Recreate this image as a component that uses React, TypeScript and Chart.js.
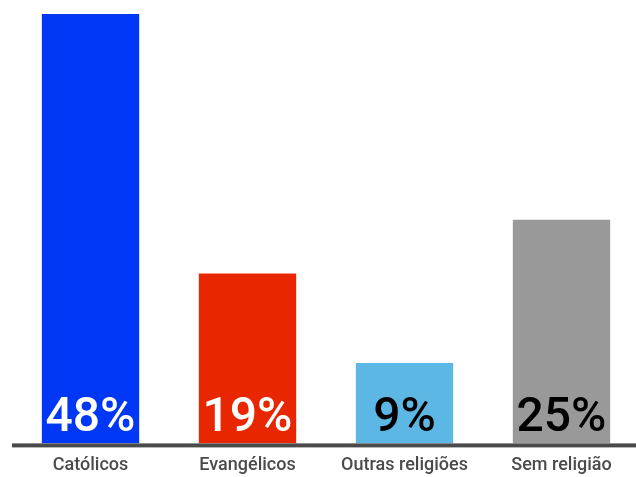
import React, { useEffect, useRef } from "react";
import Chart from "chart.js/auto";

const categories = ["Católicos", "Evangélicos", "Outras religiões", "Sem religião"];
const shares = [48, 19, 9, 25];
const barColors = ["#0037f5", "#e82600", "#5db7e5", "#999999"];
const labelColors = ["#ffffff", "#ffffff", "#000000", "#000000"];

// Value labels sitting at the bottom of each bar
const valueLabels = {
  id: "valueLabels",
  afterDatasetsDraw(chart: Chart) {
    const ctx = chart.ctx;
    const meta = chart.getDatasetMeta(0);
    ctx.save();
    ctx.font = "500 48px Roboto";
    ctx.textAlign = "center";
    ctx.textBaseline = "alphabetic";
    meta.data.forEach((bar: any, i: number) => {
      ctx.fillStyle = labelColors[i];
      ctx.fillText(`${shares[i]}%`, bar.x, bar.base - 12);
    });
    ctx.restore();
  },
};

// Thick dark baseline under the bars
const baseline = {
  id: "baseline",
  afterDatasetsDraw(chart: Chart) {
    const { ctx, chartArea } = chart;
    ctx.save();
    ctx.fillStyle = "#4a4a4a";
    ctx.fillRect(chartArea.left, chartArea.bottom, chart.width - chartArea.left, 4);
    ctx.restore();
  },
};

export default function App() {
  const chartRef = useRef<HTMLCanvasElement>(null);
  const chartInstance = useRef<Chart | null>(null);

  useEffect(() => {
    if (!chartRef.current) return;
    if (chartInstance.current) chartInstance.current.destroy();

    chartInstance.current = new Chart(chartRef.current, {
      type: "bar",
      data: {
        labels: categories,
        datasets: [
          {
            data: shares,
            backgroundColor: barColors,
            borderWidth: 0,
            barPercentage: 0.62,
            categoryPercentage: 1,
          },
        ],
      },
      options: {
        animation: false,
        responsive: true,
        maintainAspectRatio: false,
        layout: { padding: { left: 12, top: 14, right: 0, bottom: 0 } },
        plugins: {
          legend: { display: false },
          tooltip: { enabled: false },
        },
        scales: {
          x: {
            grid: { display: false, drawTicks: false },
            border: { display: false },
            ticks: {
              color: "#4a4a4a",
              padding: 11,
              font: { family: "Roboto", size: 18, weight: 500 },
            },
          },
          y: {
            display: false,
            min: 0,
            max: 48,
          },
        },
      },
      plugins: [valueLabels, baseline],
    });

    return () => {
      if (chartInstance.current) {
        chartInstance.current.destroy();
        chartInstance.current = null;
      }
    };
  }, []);

  return (
    <div
      style={{
        position: "fixed",
        left: 0,
        top: 0,
        width: "636px",
        height: "477px",
        overflow: "hidden",
        background: "#ffffff",
      }}
    >
      <div style={{ width: "640px", height: "487px" }}>
        <canvas ref={chartRef} />
      </div>
    </div>
  );
}
